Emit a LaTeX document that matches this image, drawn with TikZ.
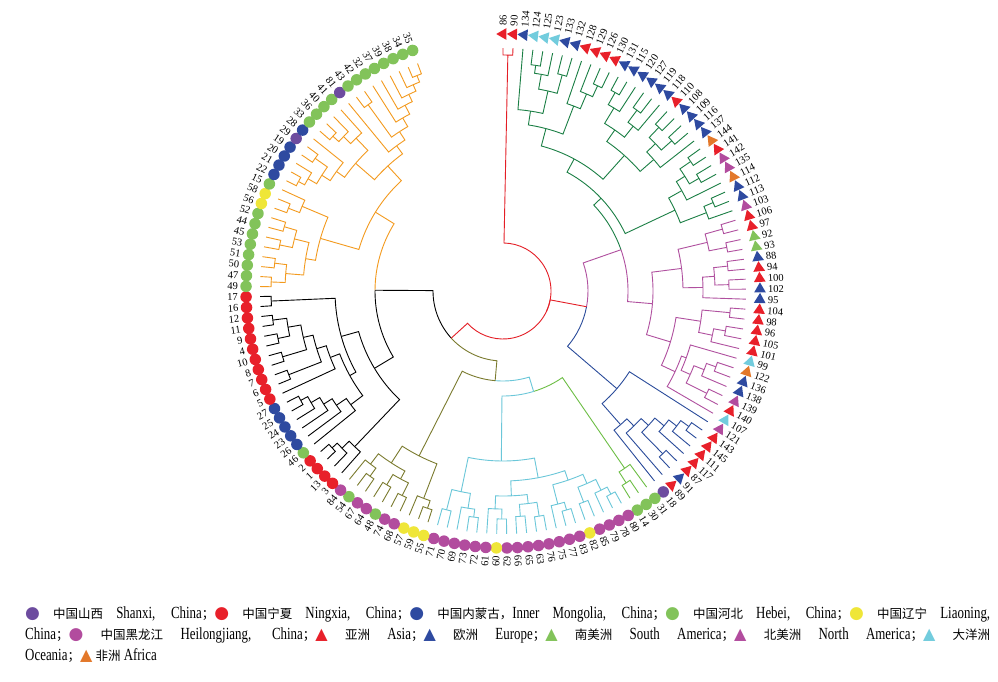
\documentclass[tikz,border=0pt]{standalone}
\usepackage{fontspec}
\setmainfont{Liberation Serif}
\newfontfamily\cjk{Noto Sans CJK SC}
\newfontfamily\sym{DejaVu Sans}
\newfontfamily\legfont[FakeStretch=0.76]{Liberation Serif}
\usetikzlibrary{shapes.geometric}
\definecolor{cR}{HTML}{E41E26}
\definecolor{cDG}{HTML}{1B7F45}
\definecolor{cMg}{HTML}{B0509F}
\definecolor{cBl}{HTML}{2B4C9B}
\definecolor{cLG}{HTML}{6DBE45}
\definecolor{cCy}{HTML}{6BC7D9}
\definecolor{cOl}{HTML}{7B7B2F}
\definecolor{cBk}{HTML}{000000}
\definecolor{cOr}{HTML}{F39A1E}
\definecolor{mP}{HTML}{6D4C9F}
\definecolor{mR}{HTML}{E8202A}
\definecolor{mB}{HTML}{2E4AA0}
\definecolor{mG}{HTML}{82C35A}
\definecolor{mY}{HTML}{EFE638}
\definecolor{mM}{HTML}{B24C9E}
\definecolor{mC}{HTML}{72CCDD}
\definecolor{mO}{HTML}{E3782A}
\tikzset{
  br/.style={line width=0.9pt},
  tri/.style={regular polygon, regular polygon sides=3, inner sep=0pt, minimum size=13.5pt, draw=none},
  dot/.style={circle, inner sep=0pt, minimum size=11.5pt, draw=none},
  lab/.style={inner sep=0pt, text height=7pt, text depth=0pt, font=\fontsize{10.5}{12}\selectfont},
  legline/.style={anchor=base west, inner sep=0pt},
}
\def\stepang{2.357}
\newcommand\leafdef[2]{%
  \pgfmathsetmacro\a{90-#1*\stepang}%
  \expandafter\xdef\csname A@l#1\endcsname{\a}%
  \expandafter\xdef\csname R@l#1\endcsname{243}%
  \pgfmathtruncatemacro\side{\a>-90}%
  \ifnum\side=1
    \node[lab, anchor=west, rotate=\a] (t#1) at (\a:265pt) {#2};
  \else
    \pgfmathsetmacro\b{\a+180}%
    \node[lab, anchor=east, rotate=\b] (t#1) at (\a:265pt) {#2};
  \fi}
\newcommand\N[4]{%
  \gdef\nfirst{}%
  \foreach \c in {#4}{\ifx\nfirst\empty\xdef\nfirst{\csname A@\c\endcsname}\fi\xdef\nlast{\csname A@\c\endcsname}}%
  \pgfmathsetmacro\ap{(\nfirst+\nlast)/2}%
  \expandafter\xdef\csname A@#1\endcsname{\ap}%
  \expandafter\xdef\csname R@#1\endcsname{#2}%
  \foreach \c in {#4}{%
    \edef\ac{\csname A@\c\endcsname}\edef\rc{\csname R@\c\endcsname}%
    \draw[br,#3] (\ap:#2pt) arc[start angle=\ap, end angle=\ac, radius=#2pt] -- (\ac:\rc pt);}}
\newcommand\M[3]{%
  \gdef\nfirst{}%
  \foreach \c/\cc in {#3}{\ifx\nfirst\empty\xdef\nfirst{\csname A@\c\endcsname}\fi\xdef\nlast{\csname A@\c\endcsname}}%
  \pgfmathsetmacro\ap{(\nfirst+\nlast)/2}%
  \expandafter\xdef\csname A@#1\endcsname{\ap}%
  \expandafter\xdef\csname R@#1\endcsname{#2}%
  \foreach \c/\cc in {#3}{%
    \edef\ac{\csname A@\c\endcsname}\edef\rc{\csname R@\c\endcsname}%
    \draw[br,\cc] (\ap:#2pt) arc[start angle=\ap, end angle=\ac, radius=#2pt] -- (\ac:\rc pt);}}
\newcommand\lc[1]{{\color{#1}\fontsize{17}{17}\sym ●}}
\newcommand\lt[1]{{\color{#1}\fontsize{16}{16}\sym ▲}}
\newcommand\zh[1]{{\fontsize{12.5}{14}\cjk #1}}
\begin{document}
\begin{tikzpicture}[x=1pt,y=1pt]
\fill[white] (0,0) rectangle (998,-681);
\useasboundingbox (0,0) rectangle (998,-681);
\begin{scope}[shift={(503,-291)}]
% ---------- leaves: triangles ----------
\foreach \i/\cl/\lab in {0/mR/86,1/mR/90,2/mB/134,3/mC/124,4/mC/125,5/mC/123,6/mB/133,7/mB/132,8/mR/128,9/mR/129,10/mR/126,11/mR/130,12/mB/131,13/mB/115,14/mB/120,15/mB/127,16/mB/119,17/mB/118,18/mR/110,19/mB/108,20/mB/109,21/mB/116,22/mB/137,23/mO/144,24/mR/141,25/mM/142,26/mM/135,27/mO/114,28/mB/112,29/mB/113,30/mM/103,31/mR/106,32/mR/97,33/mG/92,34/mG/93,35/mB/88,36/mR/94,37/mR/100,38/mB/102,39/mB/95,40/mR/104,41/mR/98,42/mR/96,43/mR/105,44/mR/101,45/mC/99,46/mO/122,47/mB/136,48/mB/138,49/mM/139,50/mR/140,51/mC/107,52/mM/121,53/mR/143,54/mR/145,55/mR/111,56/mR/117,57/mR/87,58/mB/91,59/mR/89}{%
  \pgfmathsetmacro\aa{90-\i*\stepang}%
  \node[tri, fill=\cl, rotate=\aa] (m\i) at (\aa:257pt) {};
  \leafdef{\i}{\lab}}
% ---------- leaves: circles ----------
\foreach \i/\cl/\lab in {60/mP/18,61/mG/31,62/mG/30,63/mG/14,64/mM/80,65/mM/78,66/mM/79,67/mM/85,68/mY/82,69/mM/83,70/mM/77,71/mM/75,72/mM/76,73/mM/63,74/mM/65,75/mM/66,76/mM/62,77/mY/60,78/mM/61,79/mM/72,80/mM/73,81/mM/69,82/mM/70,83/mM/71,84/mY/55,85/mY/59,86/mY/57,87/mM/68,88/mM/74,89/mG/48,90/mM/64,91/mM/67,92/mG/54,93/mM/84,94/mR/3,95/mR/13,96/mR/1,97/mR/2,98/mG/46,99/mB/26,100/mB/23,101/mB/24,102/mB/25,103/mB/27,104/mR/5,105/mR/6,106/mR/7,107/mR/8,108/mR/10,109/mR/4,110/mR/9,111/mR/11,112/mR/12,113/mR/16,114/mR/17,115/mG/49,116/mG/47,117/mG/50,118/mG/51,119/mG/53,120/mG/45,121/mG/44,122/mG/52,123/mY/56,124/mY/58,125/mG/15,126/mB/22,127/mB/21,128/mB/20,129/mB/19,130/mP/29,131/mB/28,132/mG/33,133/mG/36,134/mG/40,135/mG/41,136/mP/81,137/mG/43,138/mG/42,139/mG/32,140/mG/37,141/mG/39,142/mG/38,143/mG/34,144/mG/35}{%
  \pgfmathsetmacro\aa{90-\i*\stepang}%
  \node[dot, fill=\cl] (m\i) at (\aa:257pt) {};
  \leafdef{\i}{\lab}}
% ---------- red ----------
\N{R}{236}{cR}{l0,l1}
% ---------- dark green ----------
\N{d1}{228}{cDG}{l3,l4}
\N{d2}{220}{cDG}{d1,l5}
\N{d3}{224}{cDG}{l6,l7}
\N{d4}{205}{cDG}{d2,d3}
\N{d5}{182}{cDG}{l2,d4}
\N{d6}{226}{cDG}{l10,l11}
\N{d7}{214}{cDG}{l9,d6}
\N{d8}{198}{cDG}{l8,d7}
\N{d9}{168}{cDG}{d5,d8}
\N{d10}{228}{cDG}{l12,l13}
\N{d11}{214}{cDG}{d10,l14}
\N{d12}{225}{cDG}{l15,l16}
\N{d13}{210}{cDG}{d12,l17}
\N{d14}{196}{cDG}{d11,d13}
\N{d15}{226}{cDG}{l18,l19}
\N{d16}{226}{cDG}{l20,l21}
\N{d17}{212}{cDG}{d15,d16}
\N{d18}{200}{cDG}{d17,l22}
\N{d19}{182}{cDG}{d14,d18}
\N{d20}{150}{cDG}{d9,d19}
\N{d21}{228}{cDG}{l23,l24}
\N{d22}{226}{cDG}{l25,l26}
\N{d23}{215}{cDG}{d21,d22}
\N{d24}{205}{cDG}{d23,l27}
\N{d25}{228}{cDG}{l28,l29}
\N{d26}{218}{cDG}{d25,l30}
\N{d27}{190}{cDG}{d24,d26}
\N{DG}{135}{cDG}{d20,d27}
% ---------- magenta ----------
\N{m1}{228}{cMg}{l31,l32}
\N{m2}{228}{cMg}{l33,l34}
\N{m3}{210}{cMg}{m1,m2}
\N{m4}{226}{cMg}{l35,l36}
\N{m5}{226}{cMg}{l37,l38}
\N{m6}{212}{cMg}{m4,m5}
\N{m7}{200}{cMg}{m6,l39}
\N{m8}{180}{cMg}{m3,m7}
\N{m9}{228}{cMg}{l40,l41}
\N{m10}{226}{cMg}{l42,l43}
\N{m11}{214}{cMg}{m10,l44}
\N{m12}{200}{cMg}{m9,m11}
\N{m13}{226}{cMg}{l46,l47}
\N{m14}{216}{cMg}{m13,l48}
\N{m15}{228}{cMg}{l49,l50}
\N{m16}{205}{cMg}{m14,m15}
\N{m17}{195}{cMg}{l45,m16}
\N{m18}{190}{cMg}{m17,l51}
\N{m19}{175}{cMg}{m12,m18}
\N{m20}{150}{cMg}{m8,m19}
% ---------- blue ----------
\N{b1}{230}{cBl}{l53,l54}
\N{b2}{220}{cBl}{b1,l55}
\N{b3}{210}{cBl}{b2,l56}
\N{b4}{228}{cBl}{l57,l58}
\N{b5}{198}{cBl}{b3,b4}
\N{b6}{188}{cBl}{b5,l59}
\N{b7}{178}{cBl}{b6,l60}
\N{b8}{150}{cBl}{l52,b7}
% ---------- light green ----------
\N{g1}{228}{cLG}{l62,l63}
\N{g2}{215}{cLG}{l61,g1}
% ---------- cyan ----------
\N{c1}{230}{cCy}{l64,l65}
\N{c2}{222}{cCy}{c1,l66}
\N{c3}{226}{cCy}{l67,l68}
\N{c4}{210}{cCy}{c2,c3}
\N{c5}{228}{cCy}{l69,l70}
\N{c6}{220}{cCy}{c5,l71}
\N{c7}{200}{cCy}{c4,c6}
\N{c8}{228}{cCy}{l72,l73}
\N{c9}{226}{cCy}{l74,l75}
\N{c10}{214}{cCy}{c8,c9}
\N{c11}{228}{cCy}{l76,l77}
\N{c12}{218}{cCy}{c11,l78}
\N{c13}{205}{cCy}{c10,c12}
\N{c14}{190}{cCy}{c7,c13}
\N{c15}{228}{cCy}{l79,l80}
\N{c16}{220}{cCy}{c15,l81}
\N{c17}{226}{cCy}{l82,l83}
\N{c18}{205}{cCy}{c16,c17}
\N{c19}{170}{cCy}{c14,c18}
% ---------- olive ----------
\N{o1}{230}{cOl}{l84,l85}
\N{o2}{222}{cOl}{o1,l86}
\N{o3}{228}{cOl}{l87,l88}
\N{o4}{226}{cOl}{l89,l90}
\N{o5}{214}{cOl}{o3,o4}
\N{o6}{228}{cOl}{l91,l92}
\N{o7}{218}{cOl}{o6,l93}
\N{o8}{205}{cOl}{o5,o7}
\N{o9}{185}{cOl}{o2,o8}
% ---------- black ----------
\N{k1}{232}{cBk}{l113,l114}
\N{k2}{232}{cBk}{l111,l112}
\N{k3}{230}{cBk}{l109,l110}
\N{k4}{218}{cBk}{k3,k2}
\N{k5}{230}{cBk}{l107,l108}
\N{k6}{205}{cBk}{k5,k4}
\N{k7}{230}{cBk}{l105,l106}
\N{k8}{195}{cBk}{k7,k6}
\N{k9}{185}{cBk}{l104,k8}
\N{k10}{230}{cBk}{l102,l103}
\N{k11}{222}{cBk}{l101,k10}
\N{k12}{212}{cBk}{l100,k11}
\N{k13}{202}{cBk}{l99,k12}
\N{k14}{190}{cBk}{l98,k13}
\N{k15}{175}{cBk}{k14,k9}
\N{k16}{168}{cBk}{k15,k1}
\N{k17}{232}{cBk}{l96,l97}
\N{k18}{225}{cBk}{l95,k17}
\N{k19}{215}{cBk}{l94,k18}
\N{BK}{150}{cBk}{k19,k16}
% ---------- orange ----------
\N{q1}{232}{cOr}{l115,l116}
\N{q2}{230}{cOr}{l117,l118}
\N{q3}{218}{cOr}{q1,q2}
\N{q4}{228}{cOr}{l119,l120}
\N{q5}{228}{cOr}{l121,l122}
\N{q6}{215}{cOr}{q4,q5}
\N{q7}{200}{cOr}{q3,q6}
\N{q8}{230}{cOr}{l123,l124}
\N{q9}{218}{cOr}{q8,l125}
\N{q10}{190}{cOr}{q7,q9}
\N{q11}{232}{cOr}{l126,l127}
\N{q12}{225}{cOr}{q11,l128}
\N{q13}{230}{cOr}{l129,l130}
\N{q14}{215}{cOr}{q12,q13}
\N{q15}{205}{cOr}{q14,l131}
\N{q16}{230}{cOr}{l132,l133}
\N{q17}{222}{cOr}{q16,l134}
\N{q18}{212}{cOr}{q17,l135}
\N{q19}{195}{cOr}{q15,q18}
\N{q20}{232}{cOr}{l143,l144}
\N{q21}{225}{cOr}{l142,q20}
\N{q22}{218}{cOr}{l141,q21}
\N{q23}{210}{cOr}{l140,q22}
\N{q24}{200}{cOr}{l139,q23}
\N{q25}{230}{cOr}{l137,l138}
\N{q26}{190}{cOr}{q25,q24}
\N{q27}{180}{cOr}{l136,q26}
\N{q28}{170}{cOr}{q19,q27}
\N{OR}{150}{cOr}{q10,q28}
% ---------- deep structure ----------
\M{DM}{125}{DG/cDG,m20/cMg}
\M{RIGHT}{85}{DM/cMg,b8/cBl}
\M{CG}{105}{g2/cLG,c19/cCy}
\M{OC}{90}{CG/cCy,o9/cOl}
\M{KO}{128}{BK/cBk,OR/cOr}
\M{LEFT}{70}{OC/cOl,KO/cBk}
\M{ROOT}{48}{R/cR,RIGHT/cR,LEFT/cR}
\end{scope}
% ---------- legend ----------
\node[legline] (leg1) at (25,-618) {\legfont\fontsize{17}{18}\selectfont\makebox[965pt][s]{\lc{mP} \zh{中国山西} Shanxi, China\zh{；}\lc{mR} \zh{中国宁夏} Ningxia, China\zh{；}\lc{mB} \zh{中国内蒙古，}Inner Mongolia, China\zh{；}\lc{mG} \zh{中国河北} Hebei, China\zh{；}\lc{mY} \zh{中国辽宁} Liaoning,}};
\node[legline] (leg2) at (25,-639) {\legfont\fontsize{17}{18}\selectfont\makebox[965pt][s]{China\zh{；}\lc{mM} \zh{中国黑龙江} Heilongjiang, China\zh{；}\lt{mR} \zh{亚洲} Asia\zh{；}\lt{mB} \zh{欧洲} Europe\zh{；}\lt{mG} \zh{南美洲} South America\zh{；}\lt{mM} \zh{北美洲} North America\zh{；}\lt{mC} \zh{大洋洲}}};
\node[legline] (leg3) at (25,-660) {\legfont\fontsize{17}{18}\selectfont Oceania\zh{；}\lt{mO} \zh{非洲} Africa};
\end{tikzpicture}
\end{document}
